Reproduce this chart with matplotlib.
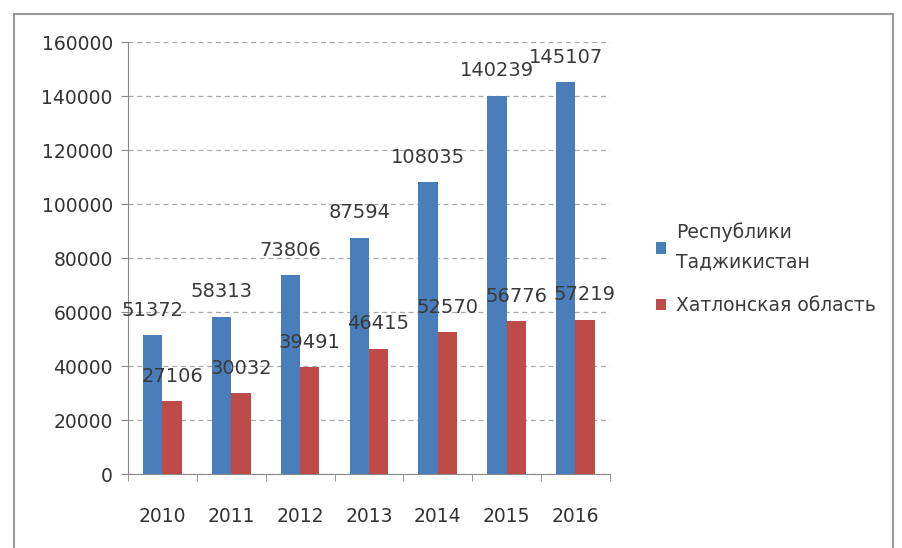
import numpy as np
import matplotlib.pyplot as plt
from matplotlib.patches import Rectangle
from matplotlib.ticker import FixedLocator

years = ["2010", "2011", "2012", "2013", "2014", "2015", "2016"]
tajikistan = [51372, 58313, 73806, 87594, 108035, 140239, 145107]
khatlon = [27106, 30032, 39491, 46415, 52570, 56776, 57219]
series_names = ["Республики\nТаджикистан", "Хатлонская область"]

blue = "#4a7ebb"
red = "#be4b48"

fig = plt.figure(figsize=(9.02, 5.48), dpi=100)
ax = fig.add_axes([0.142, 0.135, 0.534, 0.788])

# outer chart frame
fig.patches.append(
    Rectangle((0.016, -0.02), 0.974, 0.995, transform=fig.transFigure,
              fill=False, edgecolor="#9a9a9a", linewidth=1.5)
)

x = np.arange(len(years))
w = 0.28
b1 = ax.bar(x - w / 2, tajikistan, w, color=blue, label=series_names[0], zorder=3)
b2 = ax.bar(x + w / 2, khatlon, w, color=red, label=series_names[1], zorder=3)

for bars, vals in ((b1, tajikistan), (b2, khatlon)):
    for bar, v in zip(bars, vals):
        ax.annotate(str(v), (bar.get_x() + bar.get_width() / 2, v),
                    xytext=(0, 11), textcoords="offset points",
                    ha="center", va="bottom", fontsize=14, color="#3a3a3a",
                    zorder=5)

ax.set_xlim(-0.5, len(years) - 0.5)
ax.set_ylim(0, 160000)
ax.set_yticks(np.arange(0, 160001, 20000))
ax.set_xticks(x)
ax.set_xticklabels(years)
ax.xaxis.set_minor_locator(FixedLocator(np.arange(-0.5, len(years), 1)))
ax.tick_params(axis="x", which="major", length=0, labelsize=13.5, pad=24,
               labelcolor="#333333")
ax.tick_params(axis="x", which="minor", length=5, color="#888888")
ax.tick_params(axis="y", length=5, color="#888888", labelsize=13.5, pad=6,
               labelcolor="#333333")

ax.grid(axis="y", color="#aaaaaa", linestyle=(0, (4, 3)), linewidth=0.9, zorder=0)
for s in ("top", "right"):
    ax.spines[s].set_visible(False)
for s in ("left", "bottom"):
    ax.spines[s].set_color("#888888")

leg = ax.legend(loc="center left", bbox_to_anchor=(1.06, 0.475), frameon=False,
                fontsize=13.5, handlelength=0.55, handleheight=0.55,
                handletextpad=0.55, labelspacing=1.3, labelcolor="#3a3a3a")
for t in leg.get_texts():
    t.set_linespacing(1.7)

fig.savefig("out.png", dpi=100)
